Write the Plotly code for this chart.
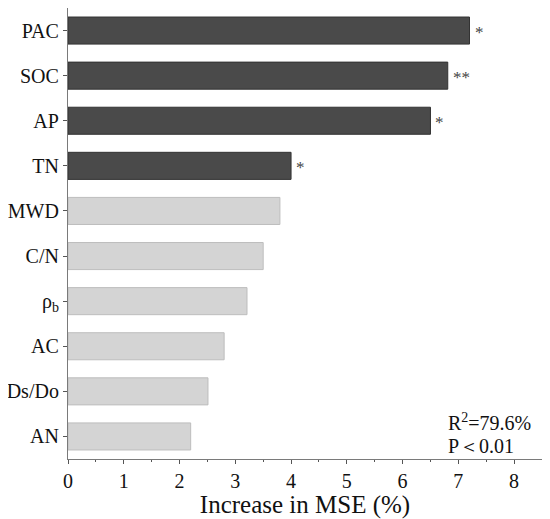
import plotly.graph_objects as go

categories = ["PAC", "SOC", "AP", "TN", "MWD", "C/N", "ρ<sub>b</sub>", "AC", "Ds/Do", "AN"]
values = [7.2, 6.81, 6.5, 4.0, 3.8, 3.5, 3.21, 2.8, 2.51, 2.2]
significance = ["*", "**", "*", "*", "", "", "", "", "", ""]
x_ticks = [0, 1, 2, 3, 4, 5, 6, 7, 8]

DARK = "#4a4a4a"
LIGHT = "#d4d4d4"
colors = [DARK if s else LIGHT for s in significance]
lines = ["#333333" if s else "#bdbdbd" for s in significance]

FONT = "Liberation Serif, Times New Roman, serif"

fig = go.Figure()
fig.add_trace(go.Bar(
    x=values, y=categories, orientation="h", width=0.6,
    marker=dict(color=colors, line=dict(color=lines, width=1)),
    showlegend=False, hoverinfo="x+y",
))

for c, v, s in zip(categories, values, significance):
    if s:
        fig.add_annotation(x=v, y=c, text=s, showarrow=False, xanchor="left",
                           xshift=3, yshift=-2, font=dict(family=FONT, size=17, color="#444444"))

fig.add_annotation(xref="paper", yref="paper", x=0.797, y=0.082, xanchor="left", yanchor="middle",
                   text="R<sup>2</sup>=79.6%", showarrow=False, font=dict(family=FONT, size=20, color="#111111"))
fig.add_annotation(xref="paper", yref="paper", x=0.797, y=0.028, xanchor="left", yanchor="middle",
                   text="P＜0.01", showarrow=False, font=dict(family=FONT, size=20, color="#111111"))

fig.update_layout(
    width=542, height=511,
    margin=dict(l=60, r=8, t=0, b=60),
    plot_bgcolor="white", paper_bgcolor="white",
    font=dict(family=FONT, size=20, color="#111111"),
    xaxis=dict(range=[0, 8.5], tickvals=x_ticks, ticks="outside", ticklen=4, tickcolor="#555",
               showline=True, linecolor="#7a7a7a", linewidth=1.2, mirror=True, showgrid=False, zeroline=False,
               minor=dict(dtick=0.5, ticks="outside", ticklen=2, tickcolor="#555"),
               title=dict(text="Increase in MSE (%)", font=dict(size=25), standoff=4),
               tickfont=dict(size=20), automargin=False),
    yaxis=dict(range=[9.5, -0.5], ticks="outside", ticklen=4, tickcolor="#555",
               showline=True, linecolor="#7a7a7a", linewidth=1.2, mirror=True, showgrid=False,
               tickfont=dict(size=20), automargin=False),
)

fig.write_html("out.html")
